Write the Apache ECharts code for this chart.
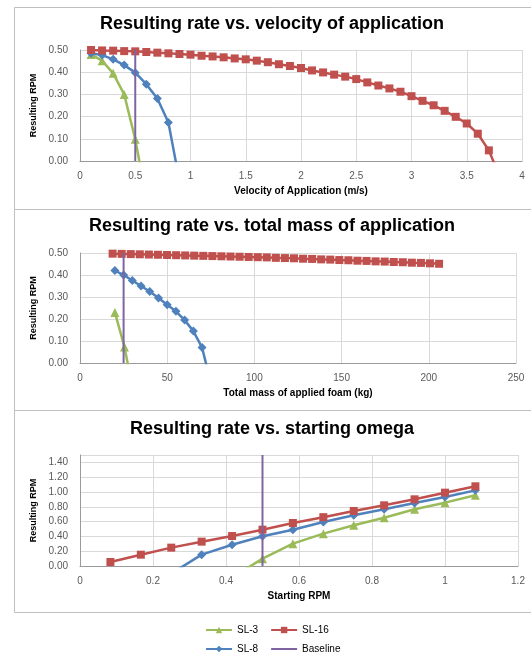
<!DOCTYPE html>
<html>
<head>
<meta charset="utf-8">
<script src="https://cdn.jsdelivr.net/npm/echarts@6/dist/echarts.min.js"></script>
<style>
html,body{margin:0;padding:0;background:#fff;}
#c{width:531px;height:654px;}
</style>
</head>
<body>
<div id="c"></div>
<script>
// ---- Chart 1: velocity of application ----
const velSL3X = [0.1, 0.2, 0.3, 0.4, 0.5, 0.6];
const velSL3Y = [0.480, 0.452, 0.395, 0.300, 0.098, -0.167];
const velSL8X = [0.1, 0.2, 0.3, 0.4, 0.5, 0.6, 0.7, 0.8, 0.9];
const velSL8Y = [0.485, 0.477, 0.458, 0.432, 0.398, 0.346, 0.282, 0.173, -0.089];
const velSL16X = [0.1, 0.2, 0.3, 0.4, 0.5, 0.6, 0.7, 0.8, 0.9, 1.0,
                  1.1, 1.2, 1.3, 1.4, 1.5, 1.6, 1.7, 1.8, 1.9, 2.0,
                  2.1, 2.2, 2.3, 2.4, 2.5, 2.6, 2.7, 2.8, 2.9, 3.0,
                  3.1, 3.2, 3.3, 3.4, 3.5, 3.6, 3.7, 3.8];
const velSL16Y = [0.500, 0.498, 0.497, 0.495, 0.494, 0.491, 0.488, 0.485, 0.482, 0.479,
                  0.474, 0.471, 0.467, 0.462, 0.458, 0.452, 0.445, 0.436, 0.428, 0.419,
                  0.408, 0.399, 0.389, 0.380, 0.369, 0.354, 0.340, 0.327, 0.312, 0.292,
                  0.271, 0.251, 0.226, 0.199, 0.169, 0.123, 0.048, -0.072];
const velBaseX = [0.5, 0.5];
const velBaseY = [0, 0.5];

// ---- Chart 2: total mass of application ----
const massSL3X = [20, 25.5, 31];
const massSL3Y = [0.230, 0.073, -0.150];
const massSL8X = [20, 25, 30, 35, 40, 45, 50, 55, 60, 65, 70, 75];
const massSL8Y = [0.420, 0.400, 0.375, 0.350, 0.325, 0.295, 0.265, 0.235, 0.195, 0.145, 0.070, -0.090];
const massSL16X = [18.7, 23.9, 29.1, 34.3, 39.5, 44.7, 49.9, 55.1, 60.3, 65.5,
                   70.7, 75.9, 81.1, 86.3, 91.5, 96.7, 101.9, 107.1, 112.3, 117.5,
                   122.7, 127.9, 133.1, 138.3, 143.5, 148.7, 153.9, 159.1, 164.3, 169.5,
                   174.7, 179.9, 185.1, 190.3, 195.5, 200.7, 205.9];
const massSL16Y = [0.497, 0.496, 0.495, 0.494, 0.493, 0.492, 0.491, 0.490, 0.489, 0.488,
                   0.487, 0.486, 0.485, 0.484, 0.483, 0.482, 0.481, 0.480, 0.478, 0.477,
                   0.476, 0.474, 0.473, 0.471, 0.470, 0.468, 0.467, 0.465, 0.464, 0.462,
                   0.461, 0.459, 0.458, 0.456, 0.455, 0.453, 0.451];
const massBaseX = [25, 25];
const massBaseY = [0, 0.5];

// ---- Chart 3: starting omega ----
const omgSL3X = [0.4167, 0.5, 0.5833, 0.6667, 0.75, 0.8333, 0.9167, 1.0, 1.0833];
const omgSL3Y = [-0.156, 0.099, 0.302, 0.437, 0.550, 0.653, 0.766, 0.856, 0.955];
const omgSL8X = [0.25, 0.3333, 0.4167, 0.5, 0.5833, 0.6667, 0.75, 0.8333, 0.9167, 1.0, 1.0833];
const omgSL8Y = [-0.102, 0.153, 0.288, 0.401, 0.491, 0.595, 0.685, 0.766, 0.851, 0.932, 1.022];
const omgSL16X = [0.0833, 0.1667, 0.25, 0.3333, 0.4167, 0.5, 0.5833, 0.6667, 0.75, 0.8333, 0.9167, 1.0, 1.0833];
const omgSL16Y = [0.054, 0.153, 0.248, 0.329, 0.405, 0.491, 0.581, 0.660, 0.743, 0.820, 0.901, 0.991, 1.077];
const omgBaseX = [0.5, 0.5];
const omgBaseY = [0, 1.5];

const titles = ['Resulting rate vs. velocity of application',
                'Resulting rate vs. total mass of application',
                'Resulting rate vs. starting omega'];
const xNames = ['Velocity of Application (m/s)', 'Total mass of applied foam (kg)', 'Starting RPM'];
const yName = 'Resulting RPM';
const seriesNames = ['SL-3', 'SL-8', 'SL-16', 'Baseline'];

const FONT = 'Liberation Sans';
const COLORS = {'SL-3': '#9BBB59', 'SL-8': '#4F81BD', 'SL-16': '#C0504D', 'Baseline': '#8064A2'};
const SYMBOLS = {'SL-3': 'triangle', 'SL-8': 'diamond', 'SL-16': 'rect', 'Baseline': 'none'};
const SIZES = {'SL-3': 9, 'SL-8': 9, 'SL-16': 8, 'Baseline': 0};

function zip(xs, ys) { return xs.map((x, i) => [x, ys[i]]); }

const chartData = [
  {'SL-3': [velSL3X, velSL3Y], 'SL-8': [velSL8X, velSL8Y], 'SL-16': [velSL16X, velSL16Y], 'Baseline': [velBaseX, velBaseY]},
  {'SL-3': [massSL3X, massSL3Y], 'SL-8': [massSL8X, massSL8Y], 'SL-16': [massSL16X, massSL16Y], 'Baseline': [massBaseX, massBaseY]},
  {'SL-3': [omgSL3X, omgSL3Y], 'SL-8': [omgSL8X, omgSL8Y], 'SL-16': [omgSL16X, omgSL16Y], 'Baseline': [omgBaseX, omgBaseY]}
];

const grids = [
  {left: 80, right: 9, top: 50, height: 111},
  {left: 80, right: 15, top: 253, height: 110},
  {left: 80, right: 13, top: 455, height: 111}
];
const xAxisCfg = [
  {min: 0, max: 4, interval: 0.5, fmt: v => String(v)},
  {min: 0, max: 250, interval: 50, fmt: v => String(v)},
  {min: 0, max: 1.2, interval: 0.2, fmt: v => String(Math.round(v * 10) / 10)}
];
const yAxisCfg = [
  {min: 0, max: 0.5, interval: 0.1},
  {min: 0, max: 0.5, interval: 0.1},
  {min: 0, max: 1.5, interval: 0.2}
];
const titleTops = [15, 217, 420];

const gridLine = '#D9D9D9';
const axisLine = '#9A9A9A';
const labelColor = '#595959';

const option = {
  animation: false,
  backgroundColor: '#fff',
  title: titles.map((t, i) => ({
    text: t, left: 272, textAlign: 'center', top: titleTops[i], padding: 0,
    textStyle: {fontFamily: FONT, fontSize: 18, fontWeight: 'bold', color: '#000'}
  })),
  grid: grids,
  xAxis: xAxisCfg.map((c, i) => ({
    type: 'value', gridIndex: i, min: c.min, max: c.max, interval: c.interval,
    name: xNames[i], nameLocation: 'middle', nameGap: 25,
    nameTextStyle: {fontFamily: FONT, fontSize: 10, fontWeight: 'bold', color: '#000'},
    axisLine: {show: true, onZero: false, lineStyle: {color: axisLine, width: 1}},
    axisTick: {show: false},
    splitLine: {show: true, lineStyle: {color: gridLine, width: 1}},
    axisLabel: {fontFamily: FONT, fontSize: 10, color: labelColor, margin: 10, formatter: c.fmt}
  })),
  yAxis: yAxisCfg.map((c, i) => ({
    type: 'value', gridIndex: i, min: c.min, max: c.max, interval: c.interval,
    name: yName, nameLocation: 'middle', nameGap: 36, nameRotate: 90,
    nameTextStyle: {fontFamily: FONT, fontSize: 9, fontWeight: 'bold', color: '#000'},
    axisLine: {show: true, lineStyle: {color: axisLine, width: 1}},
    axisTick: {show: false},
    splitLine: {show: true, lineStyle: {color: gridLine, width: 1}},
    axisLabel: {fontFamily: FONT, fontSize: 10, color: labelColor, margin: 12,
                showMaxLabel: i !== 2, formatter: v => v.toFixed(2)}
  })),
  legend: [
    {data: ['SL-3', 'SL-16'], left: 200, top: 620, itemWidth: 26, itemHeight: 8, itemGap: 12,
     textStyle: {fontFamily: FONT, fontSize: 10, color: '#000'}},
    {data: ['SL-8', {name: 'Baseline', itemStyle: {opacity: 0}}], left: 200, top: 639, itemWidth: 26, itemHeight: 8, itemGap: 12,
     textStyle: {fontFamily: FONT, fontSize: 10, color: '#000'}}
  ],
  graphic: [
    {type: 'rect', shape: {x: 14.5, y: 7.5, width: 600, height: 202}, style: {fill: 'none', stroke: '#BFBFBF', lineWidth: 1}, z: -1},
    {type: 'rect', shape: {x: 14.5, y: 209.5, width: 600, height: 201}, style: {fill: 'none', stroke: '#BFBFBF', lineWidth: 1}, z: -1},
    {type: 'rect', shape: {x: 14.5, y: 410.5, width: 600, height: 202}, style: {fill: 'none', stroke: '#BFBFBF', lineWidth: 1}, z: -1}
  ],
  series: []
};

chartData.forEach((d, gi) => {
  seriesNames.forEach((name, si) => {
    const isBase = name === 'Baseline';
    option.series.push({
      type: 'line', name: name, xAxisIndex: gi, yAxisIndex: gi,
      data: zip(d[name][0], d[name][1]),
      symbol: SYMBOLS[name], symbolSize: SIZES[name], showSymbol: !isBase,
      clip: true, z: 2 + si,
      color: COLORS[name],
      lineStyle: {color: COLORS[name], width: isBase ? 2 : 2.5},
      itemStyle: {color: COLORS[name]}
    });
  });
});

const chart = echarts.init(document.getElementById('c'), null, {renderer: 'canvas'});
chart.setOption(option);
</script>
</body>
</html>
